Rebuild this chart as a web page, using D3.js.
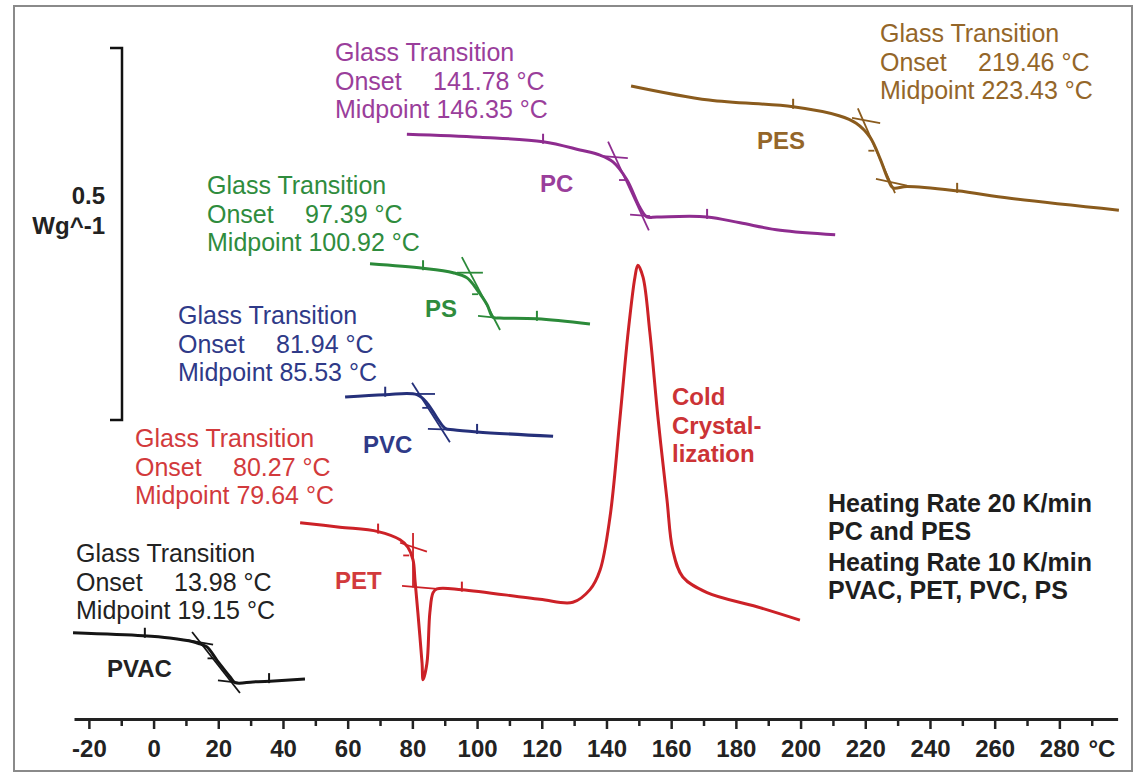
<!DOCTYPE html>
<html><head><meta charset="utf-8">
<script src="https://cdn.jsdelivr.net/npm/d3@7"></script>
<style>
body{margin:0;background:#fff;}
svg{display:block;font-family:"Liberation Sans",Arial,Helvetica,sans-serif;}
</style></head><body>
<svg id="c" width="1135" height="773"></svg>
<script>
// ---------- DATA (temperature in °C, heat flow in mW/g, curves offset for display) ----------
const samples = ["PVAC", "PET", "PVC", "PS", "PC", "PES"];
const onsets = [13.98, 80.27, 81.94, 97.39, 141.78, 219.46];
const midpoints = [19.15, 79.64, 85.53, 100.92, 146.35, 223.43];

const pvacCurve = [[-24.9,-286],[-3.3,-290],[5,-293],[12.2,-298],[14.3,-301],[16.5,-305],[19.6,-323],[23.6,-345],[25.2,-353],[30.7,-352],[36,-351],[46.8,-348]];
const petCurve = [[45.3,-138],[57.6,-144],[69.4,-150],[76.2,-161],[78.6,-171],[80.2,-188],[80.8,-215],[81.7,-259],[83.0,-327],[83.3,-349],[84.5,-327],[85.4,-259],[86.4,-232],[87.6,-227],[95.3,-228],[119.4,-241],[129.6,-245],[134.9,-228],[138.0,-202],[141.1,-130],[144.2,4],[146.7,118],[148.8,192],[149.7,208],[151.3,192],[153.4,118],[155.9,4],[158.7,-107],[160.5,-175],[163.6,-211],[171.1,-232],[186.5,-251],[199.8,-269]];
const pvcCurve = [[59.2,31],[71.6,34],[81.4,34],[84.5,23],[87.6,3],[90.1,-11],[92.6,-13],[100.0,-16],[123.5,-22]];
const psCurve = [[66.9,210],[83.3,204],[92.6,198],[96.9,191],[100.0,175],[103.1,155],[104.9,138],[107.1,137],[118.5,136],[134.9,129]];
const pcCurve = [[78.3,384],[100.9,380],[120.4,374],[131.8,363],[138.0,356],[142.0,347],[146.3,323],[150.3,286],[152.5,273],[155.6,273],[171.1,273],[181.3,265],[193.7,255],[210.7,249]];
const pesCurve = [[147.6,449],[171.7,430],[197.7,421],[211.9,409],[217.2,399],[221.5,380],[224.6,351],[227.0,324],[228.6,312],[232.9,314],[248.4,308],[264.7,298],[298.4,282]];

// tangent construction lines: upper baseline, inflection tangent, lower baseline
const pvacTangents = [[[10.3,-296],[18.4,-302]], [[11.9,-285],[26.7,-367]], [[19.9,-350],[26.0,-353]]];
const petTangents  = [[[76.2,-165],[84.5,-177]], [[80.2,-152],[80.2,-225]], [[76.8,-223],[87.6,-227]]];
const pvcTangents  = [[[79.3,35],[87.0,35]], [[79.9,50],[91.6,-30]], [[84.8,-12],[91.6,-13]]];
const psTangents   = [[[93.8,198],[101.8,198]], [[95.3,219],[107.1,121]], [[100.3,140],[107.1,137]]];
const pcTangents   = [[[138.0,355],[146.6,352]], [[140.5,374],[153.1,255]], [[147.3,276],[153.5,274]]];
const pesTangents  = [[[215.9,406],[224.6,399]], [[217.7,419],[229.2,305]], [[223.3,324],[232.9,315]]];

// evaluation limit marks on each curve
const pvacMarks = [[-2.7,-290],[35.7,-351]];
const petMarks  = [[69.4,-150],[95.3,-228]];
const pvcMarks  = [[71.6,34],[100.0,-16]];
const psMarks   = [[83.3,204],[118.5,136]];
const pcMarks   = [[120.4,374],[171.1,273]];
const pesMarks  = [[197.7,421],[248.4,308]];

const xMajorTicks = [-20,0,20,40,60,80,100,120,140,160,180,200,220,240,260,280];
const xMinorTicks = [-10,10,30,50,70,90,110,130,150,170,190,210,230,250,270,290];
const scaleBar = [0, 500];           // 0.5 W/g
const scaleBarLabel = ["0.5", "Wg^-1"];
const rateNotes = ["Heating Rate 20 K/min", "PC and PES", "Heating Rate 10 K/min", "PVAC, PET, PVC, PS"];
const peakNote = ["Cold", "Crystal-", "lization"];

// ---------- STYLE / LAYOUT ----------
const curveColor = {PVAC:"#151515", PET:"#cc2127", PVC:"#25307a", PS:"#2b8a39", PC:"#8e2c8f", PES:"#8a5b1d"};
const textColor  = {PVAC:"#222", PET:"#d23a3c", PVC:"#2f3a88", PS:"#2f8c3d", PC:"#9a3e9b", PES:"#946629"};
const blockPos = {PVAC:[76,562], PET:[135,447], PVC:[178,324], PS:[207,194], PC:[335,61], PES:[880,42]};
const labelPos = {PVAC:[107,677], PET:[335,589], PVC:[363,453], PS:[425,317], PC:[540,192], PES:[757,149]};

const curves = {PVAC:pvacCurve, PET:petCurve, PVC:pvcCurve, PS:psCurve, PC:pcCurve, PES:pesCurve};
const tangents = {PVAC:pvacTangents, PET:petTangents, PVC:pvcTangents, PS:psTangents, PC:pcTangents, PES:pesTangents};
const marks = {PVAC:pvacMarks, PET:petMarks, PVC:pvcMarks, PS:psMarks, PC:pcMarks, PES:pesMarks};

const svg = d3.select("#c");
const x = d3.scaleLinear().domain([-24.6, 298]).range([74, 1117.6]);
const y = d3.scaleLinear().domain([0, 500]).range([420, 48]);

// frame
svg.append("rect").attr("x",14).attr("y",6).attr("width",1118).attr("height",765)
  .attr("fill","none").attr("stroke","#8a8a8a").attr("stroke-width",2);

// axis
const axisY = 719;
const gAx = svg.append("g").attr("transform",`translate(0,${axisY})`)
  .call(d3.axisBottom(x).tickValues(xMajorTicks).tickSize(10).tickSizeOuter(0).tickPadding(11).tickFormat(d => String(d)));
gAx.select(".domain").attr("stroke","#222").attr("stroke-width",3);
gAx.selectAll(".tick line").attr("stroke","#222").attr("stroke-width",2.5);
gAx.selectAll(".tick text").attr("fill","#222").style("font-size","24px").style("font-weight","bold")
  .style("font-family",'"Liberation Sans",Arial,sans-serif');
const gMin = svg.append("g").attr("transform",`translate(0,${axisY})`)
  .call(d3.axisBottom(x).tickValues(xMinorTicks).tickSize(7).tickSizeOuter(0).tickFormat(""));
gMin.select(".domain").remove();
gMin.selectAll(".tick line").attr("stroke","#222").attr("stroke-width",2.5);
svg.append("text").attr("x", x(289)).attr("y", axisY+38).text("°C")
  .attr("fill","#222").style("font-size","24px").style("font-weight","bold");

// scale bar bracket
const bx = 122;
svg.append("path")
  .attr("d", `M${bx-12},${y(scaleBar[1])}H${bx}V${y(scaleBar[0])}H${bx-12}`)
  .attr("fill","none").attr("stroke","#111").attr("stroke-width",2.5);
svg.selectAll(".sbl").data(scaleBarLabel).join("text")
  .attr("x",105).attr("y",(d,i)=>204+i*30).attr("text-anchor","end")
  .attr("fill","#222").style("font-size","24px").style("font-weight","bold").text(d=>d);

// curves
const line = d3.line().x(d=>x(d[0])).y(d=>y(d[1])).curve(d3.curveCatmullRom.alpha(0.5));
samples.forEach((s,i) => {
  const col = curveColor[s];
  // tangents
  tangents[s].forEach(t => {
    svg.append("line").attr("x1",x(t[0][0])).attr("y1",y(t[0][1])).attr("x2",x(t[1][0])).attr("y2",y(t[1][1]))
      .attr("stroke",col).attr("stroke-width",1.8);
  });
  svg.append("path").datum(curves[s]).attr("d",line).attr("fill","none")
    .attr("stroke",col).attr("stroke-width",3).attr("stroke-linejoin","round");
  // evaluation marks
  marks[s].forEach(m => {
    svg.append("line").attr("x1",x(m[0])).attr("x2",x(m[0])).attr("y1",y(m[1])-8).attr("y2",y(m[1])+2)
      .attr("stroke",col).attr("stroke-width",2);
  });
  // midpoint dash on the step
  const c = curves[s];
  const mp = midpoints[i];
  let k = d3.bisector(d=>d[0]).left(c, mp);
  k = Math.max(1, Math.min(c.length-1, k));
  const a = c[k-1], b = c[k];
  const v = a[1] + (b[1]-a[1])*(mp-a[0])/(b[0]-a[0]);
  svg.append("line").attr("x1",x(mp)-8).attr("x2",x(mp)-2).attr("y1",y(v)).attr("y2",y(v))
    .attr("stroke",col).attr("stroke-width",1.8);

  // sample label
  svg.append("text").attr("x",labelPos[s][0]).attr("y",labelPos[s][1]).text(s)
    .attr("fill",textColor[s]).style("font-size","24px").style("font-weight","bold");

  // glass transition block
  const [bxp, byp] = blockPos[s];
  const g = svg.append("g").attr("fill",textColor[s]).style("font-size","25px");
  g.append("text").attr("x",bxp).attr("y",byp).text("Glass Transition");
  const on = g.append("text").attr("y",byp+28.5);
  on.append("tspan").attr("x",bxp).text("Onset");
  on.append("tspan").attr("x",bxp+98).text(`${onsets[i].toFixed(2)} °C`);
  g.append("text").attr("x",bxp).attr("y",byp+57).text(`Midpoint ${midpoints[i].toFixed(2)} °C`);
});

// cold crystallization note
svg.selectAll(".cc").data(peakNote).join("text")
  .attr("x",672).attr("y",(d,i)=>405+i*28.5).text(d=>d)
  .attr("fill","#cc3336").style("font-size","24px").style("font-weight","bold");

// heating rate notes
const rateY = [512, 540, 571, 599];
svg.selectAll(".hr").data(rateNotes).join("text")
  .attr("x",828).attr("y",(d,i)=>rateY[i]).text(d=>d)
  .attr("fill","#1e1e1e").style("font-size","25px").style("font-weight","bold");
</script>
</body></html>
